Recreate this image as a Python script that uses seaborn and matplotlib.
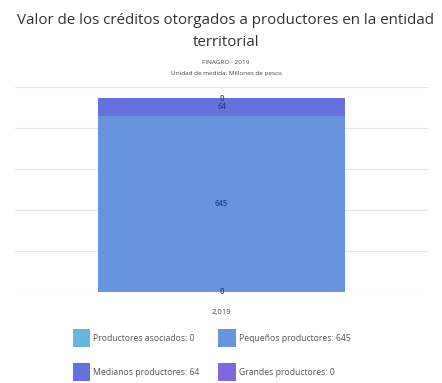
import seaborn as sns
import matplotlib.pyplot as plt
import pandas as pd
from matplotlib.patches import Patch

# data
years = ["2,019"]
series = ["Productores asociados", "Pequeños productores", "Medianos productores", "Grandes productores"]
values = [0, 645, 64, 0]
colors = ["#67b7dc", "#6794dc", "#6771dc", "#8067dc"]

sns.set_theme(style="white")
plt.rcParams["font.family"] = ["Open Sans", "DejaVu Sans"]

fig = plt.figure(figsize=(4.42, 3.83), dpi=100)
ax = fig.add_axes([15 / 442, 1 - 292 / 383, 413 / 442, 205 / 383])

# stacked bar: draw cumulative totals from the top down
cum = []
total = 0
for v in values:
    total += v
    cum.append(total)

for name, c, col in reversed(list(zip(series, cum, colors))):
    df = pd.DataFrame({"year": years, "value": [c]})
    sns.barplot(df, x="year", y="value", color=col, saturation=1, width=0.6,
                linewidth=0, ax=ax)

# segment labels
bottom = 0
for v in values:
    ax.text(0, bottom + v / 2, str(v), ha="center", va="center", fontsize=5.5,
            color="#24407f", fontweight="semibold")
    bottom += v

ax.set_ylim(0, 750)
ax.set_yticks([0, 150, 300, 450, 600, 750])
ax.set_yticklabels([])
ax.yaxis.grid(True, color="#e6e6e6", linewidth=0.8)
ax.set_axisbelow(True)
for s in ax.spines.values():
    s.set_visible(False)
ax.set(xlabel="", ylabel="")
ax.tick_params(axis="x", labelsize=5.5, colors="#444444", pad=6)
ax.tick_params(axis="y", length=0)

tx = 226 / 442
fig.text(tx, 1 - 20 / 383, "Valor de los créditos otorgados a productores en la entidad",
         ha="center", va="center", fontsize=10.9, color="#333333")
fig.text(tx, 1 - 43 / 383, "territorial", ha="center", va="center", fontsize=10.9, color="#333333")
fig.text(tx, 1 - 62 / 383, "FINAGRO - 2019", ha="center", va="center", fontsize=4.6, color="#444444")
fig.text(tx, 1 - 74 / 383, "Unidad de medida: Millones de pesos", ha="center", va="center", fontsize=4.6, color="#444444")

# legend fills column-wise, so order for rows: (asociados, pequeños), (medianos, grandes)
order = [0, 2, 1, 3]
handles = [Patch(facecolor=colors[i], edgecolor="none") for i in order]
labels = [f"{series[i]}: {values[i]}" for i in order]
fig.legend(handles, labels, ncol=2, loc="upper left", bbox_to_anchor=(73 / 442, 1 - 329 / 383),
           frameon=False, fontsize=6.2, handlelength=2.0, handleheight=2.9,
           columnspacing=2.2, labelspacing=1.8, handletextpad=0.35, labelcolor="#555555",
           borderpad=0, borderaxespad=0)

fig.savefig("out.png", dpi=100)
